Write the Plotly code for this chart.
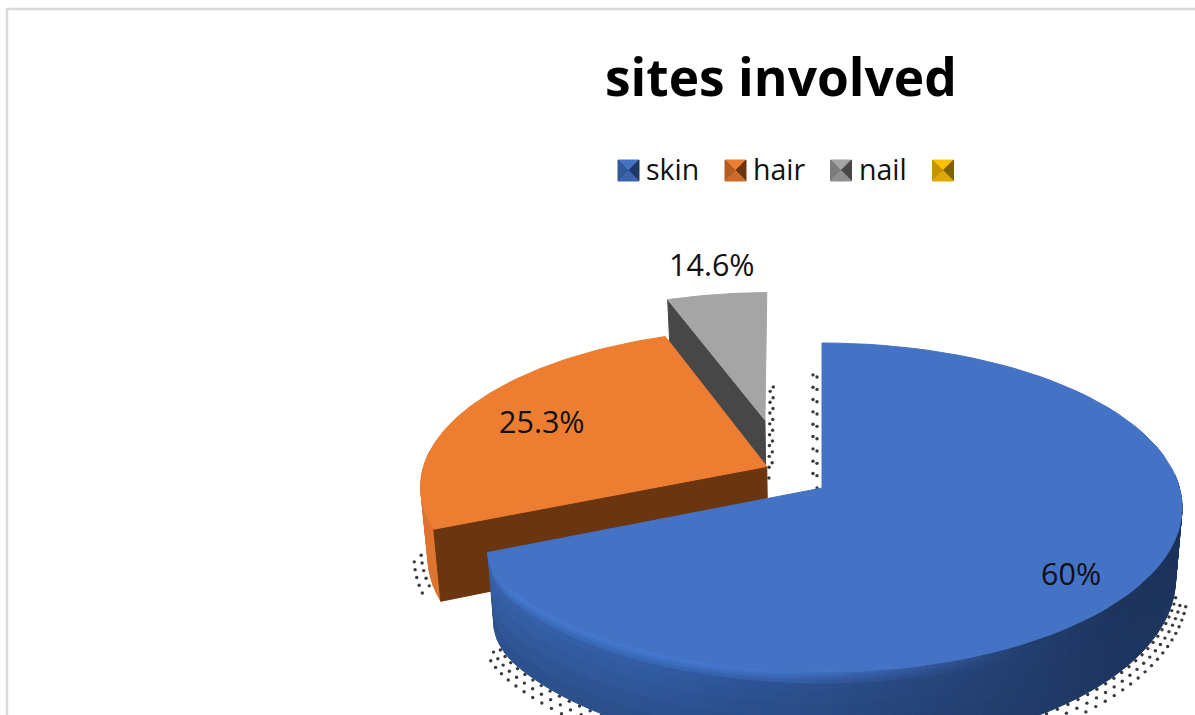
import numpy as np
import plotly.graph_objects as go

# ---- data ----
categories = ["skin", "hair", "nail", ""]
label_text = ["60%", "25.3%", "14.6%"]
drawn_share_pct = [68.6, 25.8, 5.4]          # share of the circle each drawn slice occupies
face_colors = ["#4472c4", "#ed7d31", "#a5a5a5", "#ffc000"]
wall_colors = ["#1f3864", "#6b3510", "#474747", "#7f6000"]

# ---- geometry / style ----
CX, CY, A, B, K = 822.0, 488.0, 357.5, 162.2, 0.1186
H, CONV = 70.0, 0.018
EXPLODE = [(0.0, 0.0), (-0.157, -0.135), (-0.168, -0.441)]
RADIUS = [1.0, 0.975, 0.965]
ROUND_DEG, ROUND_AMT = 14.0, 0.03     # soft corner at the end of the skin slice
FONT = "Open Sans"


def proj(u, v, z=0.0):
    u, v = np.asarray(u, float), np.asarray(v, float)
    s = 1 / (1 - K * v)
    x = CX + A * u * s * (1 - CONV * z)
    y = CY + B * v * s + H * s * z
    return x, y


ends = np.cumsum(drawn_share_pct) * 3.6
starts = np.concatenate([[0], ends[:-1]])


def rim(th_deg, i, z=0.0, rscale=1.0):
    th_deg = np.asarray(th_deg, float)
    th = np.radians(th_deg)
    r = RADIUS[i] * rscale * np.ones_like(th)
    if i == 0:
        over = np.clip((th_deg - (ends[0] - ROUND_DEG)) / ROUND_DEG, 0, 1)
        r = r - ROUND_AMT * over ** 2
    return proj(EXPLODE[i][0] + r * np.sin(th), EXPLODE[i][1] - r * np.cos(th), z)


def apex(i, z=0.0):
    return proj(EXPLODE[i][0], EXPLODE[i][1], z)


def mix(c1, c2, w):
    a = np.array([int(c1[j:j + 2], 16) for j in (1, 3, 5)], float)
    b = np.array([int(c2[j:j + 2], 16) for j in (1, 3, 5)], float)
    c = a * (1 - w) + b * w
    return "#%02x%02x%02x" % tuple(int(round(t)) for t in c)


fig = go.Figure()


def poly(xs, ys, color, name=""):
    fig.add_trace(go.Scatter(
        x=list(xs) + [xs[0]], y=list(ys) + [ys[0]], mode="lines", fill="toself",
        fillcolor=color, line=dict(color=color, width=1),
        name=name, hoverinfo="skip" if not name else "name", showlegend=False))


def face(i):
    th = np.linspace(starts[i], ends[i], 90)
    x, y = rim(th, i)
    ax, ay = apex(i)
    poly([ax] + list(x), [ay] + list(y), face_colors[i], categories[i])


def cut_wall(i, th):
    x0, y0 = apex(i)
    x1, y1 = rim(np.array([th]), i)
    x2, y2 = rim(np.array([th]), i, 1)
    x3, y3 = apex(i, 1)
    poly([x0, x1[0], x2[0], x3], [y0, y1[0], y2[0], y3], wall_colors[i])


# nail
cut_wall(2, starts[2])
face(2)

# hair: outer rim sliver, cut wall, face
th_h = np.linspace(starts[1], starts[1] + 30, 12)
for a, b in zip(th_h[:-1], th_h[1:]):
    xa, ya = rim(np.array([a, b]), 1)
    xb, yb = rim(np.array([b, a]), 1, 1)
    poly(list(xa) + list(xb), list(ya) + list(yb), "#dd7430")
cut_wall(1, starts[1])
face(1)

# shadow dots, laid out along the drawn slice outlines
dx, dy = [], []
for rs, shift, off in [(1.006, 0, 0.0), (1.02, 4, 0.5), (1.034, 8, 0.0)]:
    th = np.arange(103, 240, 2.1) + off * 2.1
    x, y = rim(th, 0, 1, rs)
    dx += list(x)
    dy += list(y + shift)
for rs, shift in [(1.02, 0), (1.04, 6)]:
    th = np.arange(250, 262, 2.6)
    x, y = rim(th, 1, 1, rs)
    dx += list(x)
    dy += list(y - 8 + shift)
for offx, f0 in [(4, 0.0), (7, 0.12)]:
    fr = np.arange(0.0 + f0, 0.75, 0.085)
    ax, ay = apex(2)
    rx, ry = rim(np.array([ends[2]]), 2)
    dx += list(ax + (rx[0] - ax) * fr + offx)
    dy += list(ay + 58 + (ry[0] - ay) * fr)
for offx, f0 in [(-5, 0.0), (-9, 0.1)]:
    fr = np.arange(0.0 + f0, 0.8, 0.085)
    ax, ay = apex(0)
    rx, ry = rim(np.array([0.0]), 0)
    dx += list(ax + (rx[0] - ax) * fr + offx)
    dy += list(ay + (ry[0] - ay) * fr)
fig.add_trace(go.Scatter(x=dx, y=dy, mode="markers", hoverinfo="skip", showlegend=False,
                         marker=dict(size=3.4, color="#3a3a3a", symbol="circle")))

# skin: shaded outer wall
stops_t = [85, 130, 170, 205, 247]
stops_c = ["#1a2f55", "#1c335d", "#294a84", "#3360aa", "#3a68b4"]


def wall_base(t):
    t = min(max(t, stops_t[0]), stops_t[-1])
    for j in range(len(stops_t) - 1):
        if t <= stops_t[j + 1]:
            return mix(stops_c[j], stops_c[j + 1], (t - stops_t[j]) / (stops_t[j + 1] - stops_t[j]))
    return stops_c[-1]


th_w = np.linspace(85, ends[0], 110)
bands = [0.0, 0.03, 0.06, 0.1, 0.15, 0.25, 0.4, 0.6, 0.8, 1.0]
for a, b in zip(th_w[:-1], th_w[1:]):
    mid = (a + b) / 2
    base = wall_base(mid)
    glow = float(np.clip((mid - 150) / 40, 0, 1))
    for z0, z1 in zip(bands[:-1], bands[1:]):
        zm = (z0 + z1) / 2
        col = mix(base, "#4a80dd", 0.85 * glow * max(0.0, 1 - zm / 0.2))
        col = mix(col, "#1f3864", 0.5 * zm)
        xa, ya = rim(np.array([a, b]), 0, z0)
        xb, yb = rim(np.array([b, a]), 0, z1)
        poly(list(xa) + list(xb), list(ya) + list(yb), col)
face(0)

# bevelled legend swatches
swatch_cx = [628.5, 735.5, 841.0, 943.0]
swatch_cy, half = 170.5, 10.5
for c, fc, wc in zip(swatch_cx, face_colors, wall_colors):
    l, r, t, b = c - half, c + half, swatch_cy - half, swatch_cy + half
    mx, my = c, swatch_cy
    poly([l, r, mx], [t, t, my], fc)
    poly([l, l, mx], [t, b, my], mix(fc, wc, 0.45))
    poly([r, r, mx], [t, b, my], wc)
    poly([l, r, mx], [b, b, my], mix(fc, wc, 0.25))

TXT = dict(color="#111111", family=FONT)
annotations = [
    dict(x=781, y=76, text="<b>sites involved</b>", font=dict(size=51.5, color="#000000", family=FONT)),
    dict(x=644, y=169, text=categories[0], xanchor="left", font=dict(size=28.5, **TXT)),
    dict(x=750.5, y=169, text=categories[1], xanchor="left", font=dict(size=28.5, **TXT)),
    dict(x=856.5, y=169, text=categories[2], xanchor="left", font=dict(size=28.5, **TXT)),
    dict(x=1071, y=573, text=label_text[0], font=dict(size=30.5, **TXT)),
    dict(x=542, y=421, text=label_text[1], font=dict(size=30.5, **TXT)),
    dict(x=712, y=264, text=label_text[2], font=dict(size=30.5, **TXT)),
]
for an in annotations:
    an.update(xref="x", yref="y", showarrow=False)

fig.update_layout(
    width=1195, height=715, margin=dict(l=0, r=0, t=0, b=0), autosize=False,
    paper_bgcolor="#ffffff", plot_bgcolor="#ffffff", showlegend=False,
    xaxis=dict(range=[0, 1195], visible=False, fixedrange=True),
    yaxis=dict(range=[715, 0], visible=False, fixedrange=True),
    annotations=annotations,
    shapes=[dict(type="path", path="M 7 720 L 7 9 L 1200 9", xref="x", yref="y",
                 line=dict(color="#d9d9d9", width=2.5), layer="below")],
)
fig.write_html("out.html", config={"displayModeBar": False},
               post_script="document.body.style.margin='0';document.body.style.overflow='hidden';")
